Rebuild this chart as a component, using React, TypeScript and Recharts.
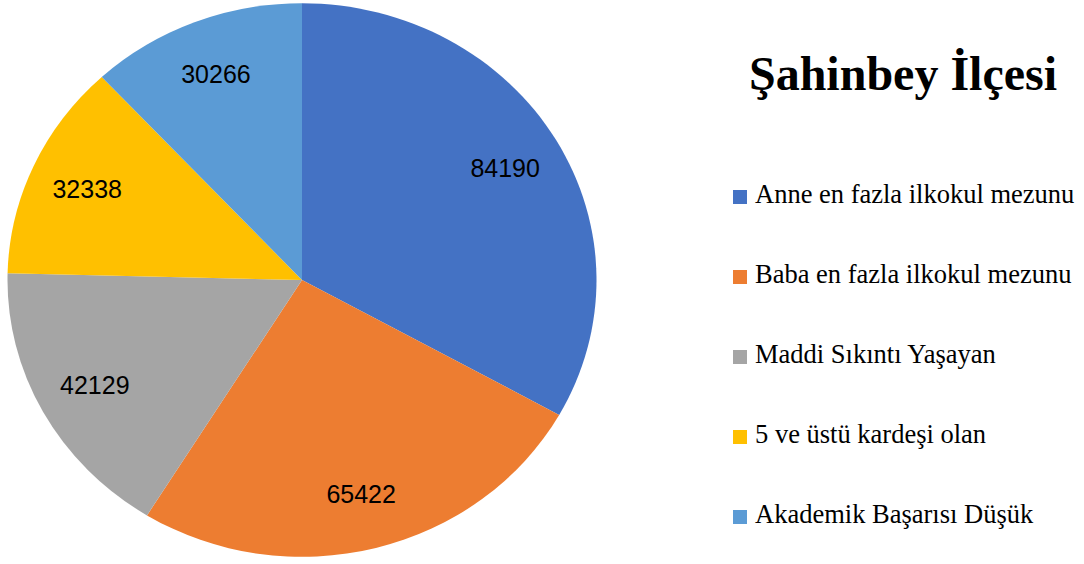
import React from "react";
import { PieChart, Pie, Cell } from "recharts";

const categories: string[] = [
  "Anne en fazla ilkokul mezunu",
  "Baba en fazla ilkokul mezunu",
  "Maddi Sıkıntı Yaşayan",
  "5 ve üstü kardeşi olan",
  "Akademik Başarısı Düşük",
];
const values: number[] = [84190, 65422, 42129, 32338, 30266];
const colors: string[] = ["#4472C4", "#ED7D31", "#A5A5A5", "#FFC000", "#5B9BD5"];
const title = "Şahinbey İlçesi";

const data = categories.map((name, i) => ({ name, value: values[i] }));

const SY = 0.94;
const RADIAN = Math.PI / 180;

const renderLabel = (props: any) => {
  const { cx, cy, midAngle, outerRadius, value } = props;
  const r = outerRadius * 0.8;
  const x = cx + r * Math.cos(-midAngle * RADIAN);
  const y = cy + r * Math.sin(-midAngle * RADIAN);
  return (
    <text
      transform={`translate(${x},${y}) scale(1,${1 / SY})`}
      x={0}
      y={0}
      textAnchor="middle"
      dominantBaseline="central"
      fill="#000"
      fontFamily="Liberation Sans, Arial, sans-serif"
      fontSize={25}
    >
      {value}
    </text>
  );
};

export default function App() {
  return (
    <div
      style={{
        position: "absolute",
        left: 0,
        top: 0,
        width: 1084,
        height: 564,
        background: "#fff",
        overflow: "hidden",
      }}
    >
      <div
        style={{
          position: "absolute",
          left: 0,
          top: -22,
          width: 604,
          height: 604,
          transform: `scaleY(${SY})`,
          transformOrigin: "302px 302px",
        }}
      >
        <PieChart width={604} height={604} margin={{ top: 0, right: 0, bottom: 0, left: 0 }}>
          <Pie
            data={data}
            dataKey="value"
            nameKey="name"
            cx={302}
            cy={302}
            outerRadius={294.5}
            startAngle={90}
            endAngle={-270}
            stroke="none"
            label={renderLabel}
            labelLine={false}
            isAnimationActive={false}
          >
            {data.map((d, i) => (
              <Cell key={d.name} fill={colors[i]} stroke="none" />
            ))}
          </Pie>
        </PieChart>
      </div>
      <div
        style={{
          position: "absolute",
          left: 720,
          width: 366,
          top: 50,
          textAlign: "center",
          fontFamily: "Liberation Serif, 'Times New Roman', serif",
          fontWeight: "bold",
          fontSize: 48,
          lineHeight: "48px",
          color: "#000",
          whiteSpace: "nowrap",
        }}
      >
        {title}
      </div>
      {categories.map((c, i) => (
        <div
          key={c}
          style={{
            position: "absolute",
            left: 733,
            top: 181 + i * 80,
            height: 26,
            whiteSpace: "nowrap",
            fontFamily: "Liberation Serif, 'Times New Roman', serif",
            fontSize: 26.5,
            lineHeight: "26px",
            color: "#000",
          }}
        >
          <span
            style={{
              position: "absolute",
              left: 0,
              top: 9,
              width: 14,
              height: 14,
              background: colors[i],
            }}
          />
          <span style={{ position: "absolute", left: 22, top: 0 }}>{c}</span>
        </div>
      ))}
    </div>
  );
}
